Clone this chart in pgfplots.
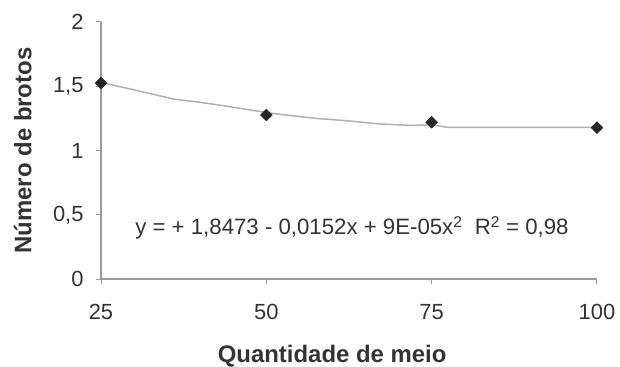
\documentclass[border=0pt]{standalone}
\usepackage{pgfplots}
\pgfplotsset{compat=1.18}
\usepackage{fontspec}
\setmainfont{Liberation Sans}
\definecolor{axgray}{HTML}{9A9A9A}
\definecolor{txt}{HTML}{333333}
\definecolor{trend}{HTML}{B0B0B0}
\begin{document}
\begin{tikzpicture}
\path[use as bounding box] (0,0) rectangle (620bp,367bp);
\begin{axis}[
  at={(101bp,88bp)}, anchor=south west,
  scale only axis, width=496bp, height=257bp,
  xmin=25, xmax=100, ymin=0, ymax=2,
  axis x line*=bottom, axis y line*=left,
  xtick={25,50,75,100}, xticklabels={25,50,75,100},
  ytick={0,0.5,1,1.5,2}, yticklabels={0,{0,5},1,{1,5},2},
  tick align=outside, major tick length=5bp,
  axis line style={axgray, line width=1.2bp},
  tick style={axgray, line width=1bp},
  ticklabel style={font=\fontsize{22}{25}\selectfont, text=txt},
  xticklabel style={yshift=-17bp},
  yticklabel style={xshift=-9bp},
  xlabel={Quantidade de meio}, ylabel={Número de brotos},
  label style={font=\bfseries\fontsize{24}{27}\selectfont, text=txt},
  xlabel style={at={(axis description cs:0.466,-0.300)}, anchor=center},
  ylabel style={at={(axis description cs:-0.158,0.5)}, anchor=center},
  clip=false,
  /pgf/number format/assume math mode=true,
]
\addplot[trend, line width=1.5bp, no marks] coordinates {
  (25,1.53) (31,1.46) (36,1.40) (40,1.375) (44,1.345) (47,1.32) (50,1.295)
  (53,1.276) (57.5,1.25) (62.5,1.23) (67,1.207) (72,1.195) (75,1.20)
  (77.5,1.18) (100,1.18)};
\addplot[only marks, mark=square*, mark size=4.2bp,
  mark options={rotate=45, fill=black!85, draw=black!85}] coordinates {
  (25,1.525) (50,1.276) (75,1.22) (100,1.178)};
\node[font=\fontsize{22.3}{25}\selectfont, text=txt] at (axis cs:62.95,0.397)
  {y = + 1,8473 - 0,0152x + 9E-05x\textsuperscript{2}\ \ R\textsuperscript{2} = 0,98};
\end{axis}
\end{tikzpicture}
\end{document}
